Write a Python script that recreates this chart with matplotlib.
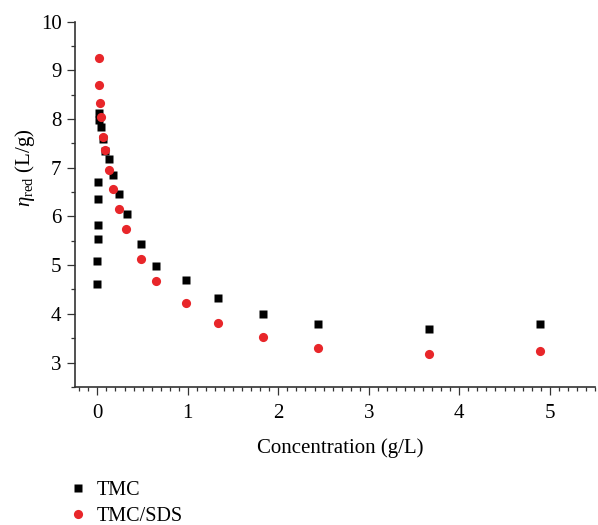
import matplotlib
matplotlib.use("Agg")
import matplotlib.pyplot as plt
from matplotlib.ticker import MultipleLocator
from matplotlib.lines import Line2D

plt.rcParams['font.family'] = ['Liberation Serif', 'DejaVu Serif']
plt.rcParams['mathtext.fontset'] = 'custom'
plt.rcParams['mathtext.rm'] = 'Liberation Serif'
plt.rcParams['mathtext.it'] = 'Liberation Serif:italic'

# TMC series (black squares)
conc_tmc = [0.014, 0.022, 0.04, 0.062, 0.084, 0.125, 0.172, 0.243, 0.324,
            0.486, 0.652, 0.976, 1.333, 1.83, 2.44, 3.67, 4.89]
eta_tmc = [8.13, 7.98, 7.84, 7.59, 7.35, 7.17, 6.85, 6.46, 6.05,
           5.44, 4.98, 4.70, 4.33, 3.99, 3.79, 3.68, 3.80]
# TMC extra points near zero concentration
conc_tmc_low = [0.011, 0.007, 0.003, 0.003, 0.0, 0.0]
eta_tmc_low = [6.70, 6.35, 5.83, 5.54, 5.09, 4.62]

# TMC/SDS series (red circles)
conc_sds = [0.014, 0.018, 0.025, 0.04, 0.062, 0.084, 0.125, 0.172, 0.239,
            0.32, 0.48, 0.648, 0.976, 1.33, 1.83, 2.44, 3.67, 4.89]
eta_sds = [9.26, 8.69, 8.32, 8.05, 7.63, 7.37, 6.96, 6.56, 6.15,
           5.75, 5.13, 4.67, 4.23, 3.81, 3.52, 3.30, 3.18, 3.24]

labels = ["TMC", "TMC/SDS"]
x_ticks = [0, 1, 2, 3, 4, 5]
y_ticks = [3, 4, 5, 6, 7, 8, 9, 10]

red = '#E8262A'
fs = 15
ms_sq = 5.8
ms_ci = 6.6

fig = plt.figure(figsize=(5.98, 5.25), dpi=100)
ax = fig.add_axes([0.125, 0.263, 0.870, 0.696])

ax.plot(conc_tmc, eta_tmc, linestyle='none', marker='s', ms=ms_sq, color='black', mec='none')
ax.plot(conc_tmc_low, eta_tmc_low, linestyle='none', marker='s', ms=ms_sq, color='black', mec='none')
ax.plot(conc_sds, eta_sds, linestyle='none', marker='o', ms=ms_ci, color=red, mec='none')

ax.set_xlim(-0.25, 5.5)
ax.set_ylim(2.5, 10)
ax.set_xticks(x_ticks)
ax.set_yticks(y_ticks)
ax.xaxis.set_minor_locator(MultipleLocator(0.1))
ax.yaxis.set_minor_locator(MultipleLocator(0.5))

for s in ['top', 'right']:
    ax.spines[s].set_visible(False)
for s in ['left', 'bottom']:
    ax.spines[s].set_color('#333333')
    ax.spines[s].set_linewidth(1.2)

ax.tick_params(which='major', direction='out', length=5.5, width=0.9, color='#333333', labelsize=fs)
ax.tick_params(which='minor', direction='out', length=3, width=0.9, color='#333333')
ax.tick_params(axis='x', which='major', pad=7)
ax.tick_params(axis='y', which='major', pad=4)

ax.set_xlabel('Concentration (g/L)', fontsize=fs)
ax.xaxis.label.set_va('center')
ax.xaxis.set_label_coords(0.51, -0.167)
ax.set_ylabel(r'$\mathit{\eta}_{\mathrm{red}}$ (L/g)', fontsize=fs)
ax.yaxis.label.set_va('center')
ax.yaxis.set_label_coords(-0.0956, 0.60)

handles = [
    Line2D([], [], linestyle='none', marker='s', ms=ms_sq, color='black', mec='none'),
    Line2D([], [], linestyle='none', marker='o', ms=ms_ci, color=red, mec='none'),
]
fig.legend(handles, labels, loc='upper left',
           bbox_to_anchor=(69.7 / 598, 1 - 481 / 525),
           frameon=False, fontsize=14.5, handlelength=0.83, handletextpad=0.52,
           labelspacing=0.32, borderpad=0, borderaxespad=0)

fig.savefig('out.png', dpi=100)
